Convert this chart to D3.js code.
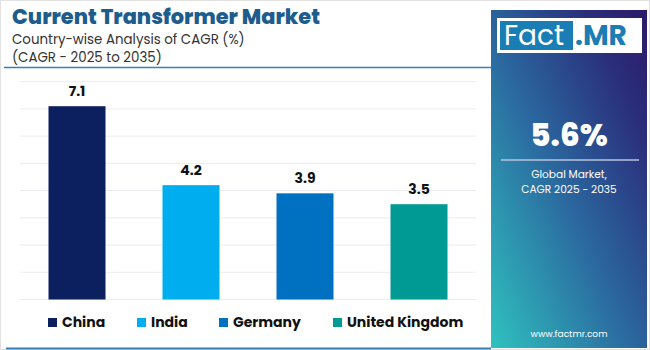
<!DOCTYPE html>
<html>
<head>
<meta charset="utf-8">
<script src="https://cdn.jsdelivr.net/npm/d3@7"></script>
<style>
body { margin: 0; background: #fff; }
text { font-family: "Poppins", "Inter", "Open Sans", sans-serif; }
</style>
</head>
<body>
<div id="drawing"></div>
<script>
"use strict"

/**** DATA ****/

let countries = ["China", "India", "Germany", "United Kingdom"]
let cagr = [7.1, 4.2, 3.9, 3.5]
let barColors = ["#0c1f5e", "#00aeef", "#0070c0", "#009a94"]
let yTicks = [0, 1, 2, 3, 4, 5, 6, 7, 8]
let globalValue = "5.6%"

/**** CANVAS ****/

let svgWidth = 650
let svgHeight = 350

let svg = d3.select("#drawing")
.append("svg")
.attr("width", svgWidth)
.attr("height", svgHeight)

svg.append("rect")
.attr("x", 0.5).attr("y", 0.5)
.attr("width", svgWidth - 1).attr("height", svgHeight - 1)
.attr("fill", "#fff")
.attr("stroke", "#e2e2e2")

/**** TITLE ****/

svg.append("text")
.attr("x", 12).attr("y", 24)
.attr("fill", "#1d5c8d")
.style("font-size", "21px")
.style("font-weight", "800")
.attr("textLength", 308)
.attr("lengthAdjust", "spacingAndGlyphs")
.text("Current Transformer Market")

svg.append("text")
.attr("x", 12).attr("y", 44)
.attr("fill", "#333")
.style("font-size", "13.4px")
.text("Country-wise Analysis of CAGR (%)")

svg.append("text")
.attr("x", 12).attr("y", 62)
.attr("fill", "#333")
.style("font-size", "13.4px")
.text("(CAGR - 2025 to 2035)")

svg.append("line")
.attr("x1", 4).attr("x2", 491)
.attr("y1", 67.5).attr("y2", 67.5)
.attr("stroke", "#3b80b2").attr("stroke-width", 1.5)

svg.append("line")
.attr("x1", 6).attr("x2", 491)
.attr("y1", 348.5).attr("y2", 348.5)
.attr("stroke", "#3b80b2").attr("stroke-width", 2)

/**** SCALES ****/

let xScale = d3.scaleBand()
.domain(countries)
.range([20, 476])
.paddingInner(0.5)
.paddingOuter(0.25)

let yScale = d3.scaleLinear()
.domain([0, 8])
.range([299.5, 81.7])

/**** GRID ****/

svg.append("g")
.selectAll("line")
.data(yTicks)
.join("line")
.attr("x1", 20).attr("x2", 476)
.attr("y1", d => yScale(d)).attr("y2", d => yScale(d))
.attr("stroke", "#ececf0")
.attr("stroke-width", 1)

/**** BARS ****/

let data = countries.map((c, i) => ({country: c, value: cagr[i], color: barColors[i]}))

svg.append("g")
.selectAll("rect")
.data(data)
.join("rect")
.attr("x", d => xScale(d.country))
.attr("y", d => yScale(d.value))
.attr("width", xScale.bandwidth())
.attr("height", d => yScale(0) - yScale(d.value))
.attr("fill", d => d.color)

svg.append("g")
.selectAll("text")
.data(data)
.join("text")
.attr("x", d => xScale(d.country) + xScale.bandwidth() / 2)
.attr("y", d => yScale(d.value) - 10)
.attr("text-anchor", "middle")
.attr("fill", "#111")
.style("font-size", "14px")
.style("font-weight", "700")
.text(d => d.value.toFixed(1))

/**** LEGEND ****/

let legendX = [48, 137, 219, 333]

let legend = svg.append("g")
.selectAll("g")
.data(data)
.join("g")
.attr("transform", (d, i) => "translate(" + legendX[i] + ",322)")

legend.append("rect")
.attr("x", 0).attr("y", -4)
.attr("width", 9).attr("height", 9)
.attr("fill", d => d.color)

legend.append("text")
.attr("x", 14).attr("y", 5)
.attr("fill", "#111")
.style("font-size", "14px")
.style("font-weight", "700")
.text(d => d.country)

/**** SIDE PANEL ****/

let defs = svg.append("defs")
let grad = defs.append("linearGradient")
.attr("id", "panelGrad")
.attr("x1", "0").attr("y1", "1")
.attr("x2", "1").attr("y2", "0")
grad.append("stop").attr("offset", "0%").attr("stop-color", "#2fc2bf")
grad.append("stop").attr("offset", "45%").attr("stop-color", "#2b6aa0")
grad.append("stop").attr("offset", "80%").attr("stop-color", "#2a2f7c")
grad.append("stop").attr("offset", "100%").attr("stop-color", "#2c1a68")

svg.append("rect")
.attr("x", 491).attr("y", 10)
.attr("width", 156).attr("height", 338)
.attr("fill", "url(#panelGrad)")

svg.append("rect")
.attr("x", 497).attr("y", 18)
.attr("width", 145).attr("height", 35)
.attr("fill", "#fff")

svg.append("rect")
.attr("x", 500).attr("y", 21)
.attr("width", 73).attr("height", 29)
.attr("fill", "#1a7db4")

svg.append("text")
.attr("x", 504).attr("y", 45)
.attr("fill", "#fff")
.style("font-size", "28px")
.style("font-weight", "400")
.text("Fact")

svg.append("text")
.attr("x", 575).attr("y", 45)
.attr("fill", "#1a7db4")
.style("font-size", "28px")
.style("font-weight", "700")
.text(".MR")

svg.append("text")
.attr("x", 569).attr("y", 146)
.attr("text-anchor", "middle")
.attr("fill", "#fff")
.style("font-size", "31px")
.style("font-weight", "800")
.text(globalValue)

svg.append("line")
.attr("x1", 501).attr("x2", 639)
.attr("y1", 160).attr("y2", 160)
.attr("stroke", "#b8c4de").attr("stroke-width", 1.5)

svg.append("text")
.attr("x", 569).attr("y", 178)
.attr("text-anchor", "middle")
.attr("fill", "#fff")
.style("font-size", "10.6px")
.text("Global Market,")

svg.append("text")
.attr("x", 569).attr("y", 193)
.attr("text-anchor", "middle")
.attr("fill", "#fff")
.style("font-size", "10.6px")
.text("CAGR 2025 - 2035")

svg.append("text")
.attr("x", 569).attr("y", 337)
.attr("text-anchor", "middle")
.attr("fill", "#fff")
.style("font-size", "9px")
.text("www.factmr.com")
</script>
</body>
</html>
